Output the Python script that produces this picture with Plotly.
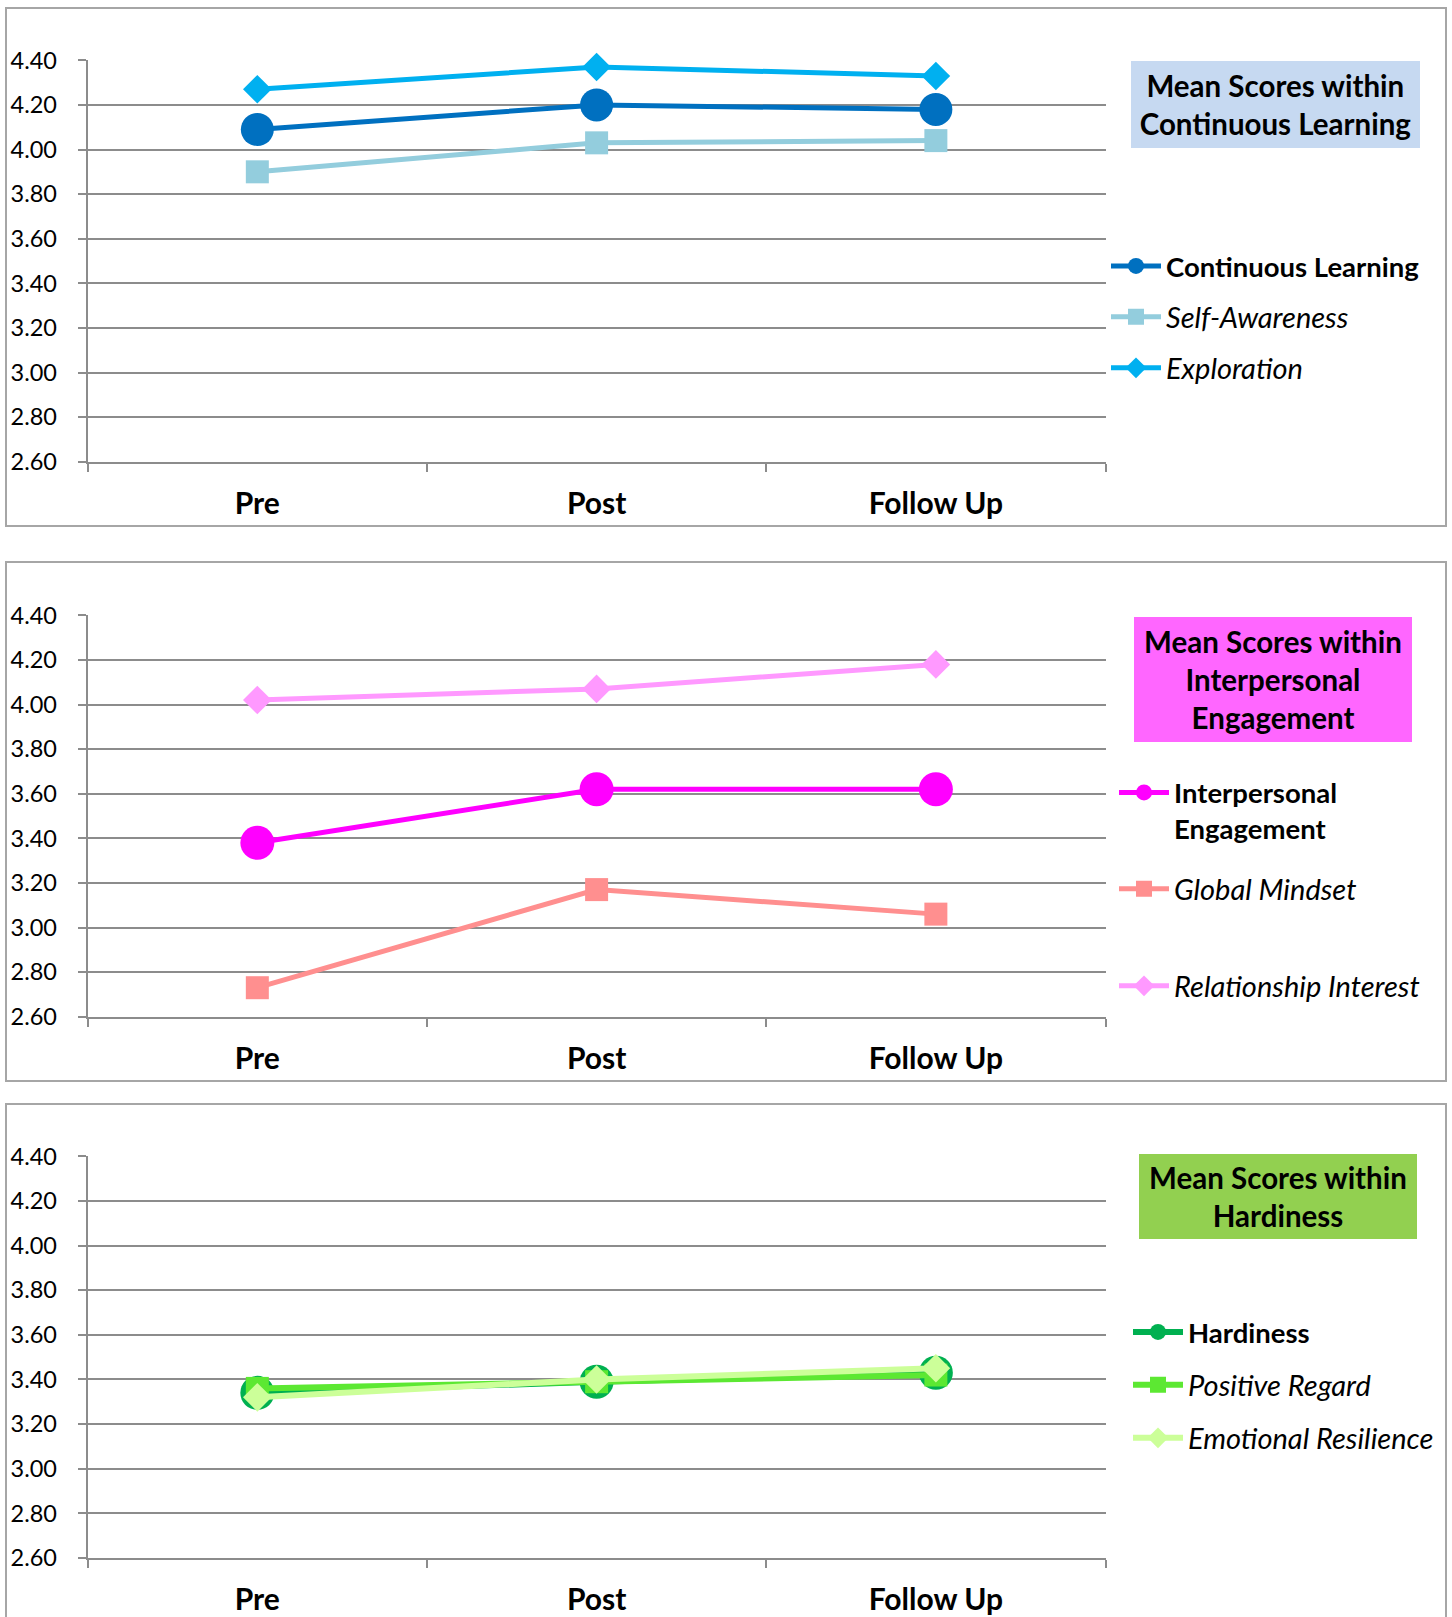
import plotly.graph_objects as go

W, H = 1452, 1617

# ---------------- data ----------------
categories = ["Pre", "Post", "Follow Up"]
y_tick_values = [2.6, 2.8, 3.0, 3.2, 3.4, 3.6, 3.8, 4.0, 4.2, 4.4]

continuous_learning = [4.09, 4.20, 4.18]
self_awareness = [3.90, 4.03, 4.04]
exploration = [4.27, 4.37, 4.33]

interpersonal_engagement = [3.38, 3.62, 3.62]
global_mindset = [2.73, 3.17, 3.06]
relationship_interest = [4.02, 4.07, 4.18]

hardiness = [3.34, 3.39, 3.43]
positive_regard = [3.36, 3.39, 3.42]
emotional_resilience = [3.32, 3.40, 3.45]

panel_titles = [
    "Mean Scores within<br>Continuous Learning",
    "Mean Scores within<br>Interpersonal<br>Engagement",
    "Mean Scores within<br>Hardiness",
]

FONT = "Lato"
GRID = "#8c8c8c"


def px_x(p):
    return p / W


def px_y(p):
    return 1 - p / H


fig = go.Figure()

# panel geometry (pixels): y of 4.40 gridline, y of 2.60 gridline
panels = [
    dict(top=60, bottom=461.7, frame=(8, 526)),
    dict(top=615, bottom=1016.7, frame=(562, 1081)),
    dict(top=1156, bottom=1558, frame=(1104, 1640)),
]
x_left, x_right = 87.7, 1105.5

series = [
    # panel, name, values, color, symbol, size, width, legend y
    (1, "<b>Continuous Learning</b>", continuous_learning, "#0070C0", "circle", 33, 5, 266),
    (1, "<i>Self-Awareness</i>", self_awareness, "#93CDDD", "square", 23, 5, 317),
    (1, "<i>Exploration</i>", exploration, "#00B0F0", "diamond", 22, 5, 368),
    (2, "<b>Interpersonal<br>Engagement</b>", interpersonal_engagement, "#FF00FF", "circle", 34, 5, 788),
    (2, "<i>Global Mindset</i>", global_mindset, "#FF8F8F", "square", 23, 5, 889),
    (2, "<i>Relationship Interest</i>", relationship_interest, "#FF99FF", "diamond", 22, 5, 986),
    (3, "<b>Hardiness</b>", hardiness, "#00B050", "circle", 34, 6, 1332),
    (3, "<i>Positive Regard</i>", positive_regard, "#5CE832", "square", 23, 6, 1385),
    (3, "<i>Emotional Resilience</i>", emotional_resilience, "#CCFF99", "diamond", 22, 6, 1438),
]

legend_x = {1: 1106, 2: 1114, 3: 1128}

layout_extra = {}
for i, (panel, name, vals, color, sym, size, lw, ly) in enumerate(series):
    lid = "legend" if i == 0 else f"legend{i + 1}"
    suffix = "" if panel == 1 else str(panel)
    fig.add_trace(go.Scatter(
        x=categories, y=vals, name=name, mode="lines+markers",
        line=dict(color=color, width=lw),
        marker=dict(symbol=sym, size=size, color=color, line=dict(width=0)),
        xaxis="x" + suffix, yaxis="y" + suffix,
        legend=lid, showlegend=True, cliponaxis=False,
    ))
    multiline = "<br>" in name
    layout_extra[lid] = dict(
        x=px_x(legend_x[panel]), y=px_y(ly - 20) if multiline else px_y(ly),
        xanchor="left", yanchor="top" if multiline else "middle",
        valign="top",
        bgcolor="rgba(0,0,0,0)", borderwidth=0,
        font=dict(family=FONT, size=27.5 if name.startswith("<b>") else 29, color="#000000"),
        itemwidth=50, itemsizing="trace",
    )

for k, p in enumerate(panels, start=1):
    suffix = "" if k == 1 else str(k)
    xa = dict(
        type="category", categoryorder="array", categoryarray=categories,
        range=[-0.5, 2.5], domain=[px_x(x_left), px_x(x_right)],
        anchor="y" + suffix, tickson="boundaries",
        ticks="outside", ticklen=8, tickwidth=2, tickcolor=GRID,
        showline=True, linecolor=GRID, linewidth=2,
        showgrid=False, zeroline=False, automargin=False,
        tickfont=dict(family=FONT, size=30, color="#000000", weight="bold"),
        ticklabelstandoff=14, fixedrange=True,
    )
    ya = dict(
        range=[2.6, 4.4015], domain=[px_y(p["bottom"]), px_y(p["top"])],
        anchor="x" + suffix, tickmode="array", tickvals=y_tick_values,
        ticktext=[f"{v:.2f}" for v in y_tick_values],
        ticks="outside", ticklen=8, tickwidth=2, tickcolor=GRID,
        showline=True, linecolor=GRID, linewidth=2,
        showgrid=True, gridcolor=GRID, gridwidth=2, zeroline=False,
        automargin=False,
        tickfont=dict(family=FONT, size=23.5, color="#000000"),
        ticklabelstandoff=16, fixedrange=True,
    )
    layout_extra["xaxis" + suffix] = xa
    layout_extra["yaxis" + suffix] = ya

shapes = []
for p in panels:
    shapes.append(dict(
        type="rect", xref="paper", yref="paper",
        x0=px_x(6), x1=px_x(1446), y0=px_y(p["frame"][1]), y1=px_y(p["frame"][0]),
        line=dict(color="#A6A6A6", width=2), fillcolor="rgba(0,0,0,0)", layer="below",
    ))

title_boxes = [
    dict(x0=1131, x1=1420, y0=61, y1=148, color="#C6D9F1"),
    dict(x0=1134, x1=1412, y0=617, y1=742, color="#FF66FF"),
    dict(x0=1139, x1=1417, y0=1154, y1=1239, color="#92D050"),
]
annotations = []
for tb, txt in zip(title_boxes, panel_titles):
    annotations.append(dict(
        text=f"<b>{txt}</b>", xref="paper", yref="paper",
        x=px_x((tb["x0"] + tb["x1"]) / 2), y=px_y((tb["y0"] + tb["y1"]) / 2),
        xanchor="center", yanchor="middle", showarrow=False,
        width=tb["x1"] - tb["x0"], height=tb["y1"] - tb["y0"],
        bgcolor=tb["color"], borderpad=0, borderwidth=0, align="center",
        font=dict(family=FONT, size=29.5, color="#000000"),
    ))

fig.update_layout(
    width=W, height=H, margin=dict(l=0, r=0, t=0, b=0, autoexpand=False),
    paper_bgcolor="white", plot_bgcolor="white",
    font=dict(family=FONT, color="#000000"),
    shapes=shapes, annotations=annotations,
    hovermode=False,
    **layout_extra,
)

fig.write_html("out.html")
